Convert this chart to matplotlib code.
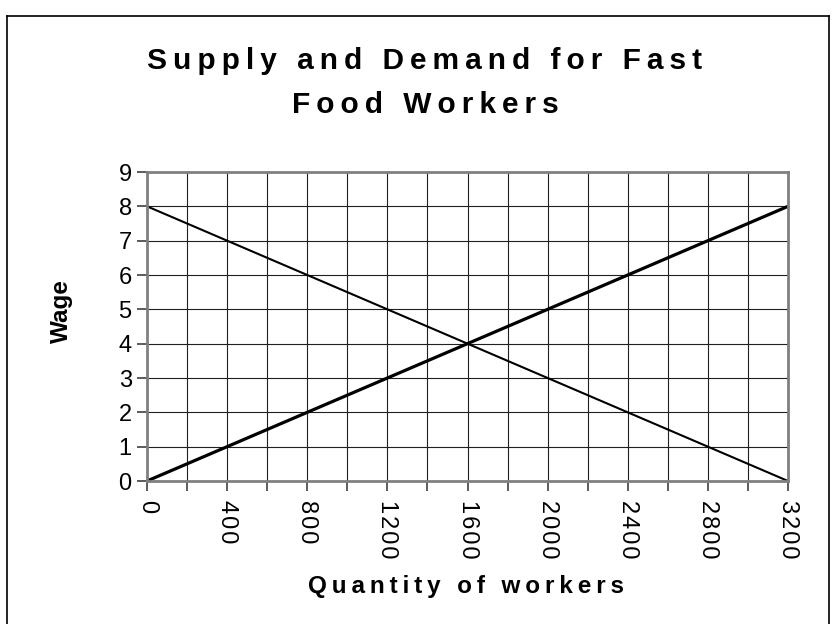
import matplotlib
matplotlib.use("Agg")
import matplotlib.pyplot as plt
from matplotlib.lines import Line2D

# data
quantity = [0, 400, 800, 1200, 1600, 2000, 2400, 2800, 3200]
supply_wage = [0, 1, 2, 3, 4, 5, 6, 7, 8]
demand_wage = [8, 7, 6, 5, 4, 3, 2, 1, 0]

x_ticks = [0, 400, 800, 1200, 1600, 2000, 2400, 2800, 3200]
x_minor = [200, 600, 1000, 1400, 1800, 2200, 2600, 3000]
y_ticks = [0, 1, 2, 3, 4, 5, 6, 7, 8, 9]

title1 = "Supply and Demand for Fast"
title2 = "Food Workers"
xlabel = "Quantity of workers"
ylabel = "Wage"

fam = ["Liberation Sans", "DejaVu Sans"]
plt.rcParams["font.family"] = fam

def spaced(s, sep="\u2009"):
    # Excel-style letter spacing
    return sep.join(s)

W, H = 832, 624
fig = plt.figure(figsize=(W / 100, H / 100), dpi=100)
ax = fig.add_axes([147 / W, 1 - 481 / H, (788 - 147) / W, (481 - 172) / H])

ax.plot(quantity, demand_wage, color="black", lw=1.5, solid_capstyle="butt")
ax.plot(quantity, supply_wage, color="black", lw=2.3, solid_capstyle="butt")

ax.set_xlim(0, 3200)
ax.set_ylim(0, 9)
ax.set_xticks(x_ticks)
ax.set_xticks(x_minor, minor=True)
ax.set_xticklabels([spaced(str(t), "\u200a") for t in x_ticks], rotation=-90, fontsize=17)
ax.set_yticks(y_ticks)
ax.set_yticklabels([str(t) for t in y_ticks], fontsize=17)

ax.tick_params(axis="x", which="both", direction="out", length=7, width=1.2,
               color="#404040", pad=7)
ax.tick_params(axis="y", direction="out", length=7, width=1.2, color="#404040", pad=4)
ax.grid(True, which="both", color="#202020", lw=0.8)
ax.set_axisbelow(True)
for sp in ax.spines.values():
    sp.set_color("#808080")
    sp.set_linewidth(2)

fig.text(425 / W, 1 - 69 / H, spaced(title1), ha="center", va="baseline",
         fontsize=21.5, fontweight="bold")
fig.text(425 / W, 1 - 113 / H, spaced(title2), ha="center", va="baseline",
         fontsize=21.5, fontweight="bold")
fig.text(466 / W, 1 - 593 / H, spaced(xlabel), ha="center", va="baseline",
         fontsize=17.5, fontweight="bold")
fig.text(61 / W, 1 - 311 / H, ylabel, ha="center", va="center", rotation=90,
         fontsize=17.5, fontweight="bold")

# chart area border
bx0, bx1, by0 = 7 / W, 829 / W, 1 - 16 / H
for xs, ys in [([bx0, bx0], [0, by0]), ([bx0, bx1], [by0, by0]), ([bx1, bx1], [by0, 0])]:
    fig.add_artist(Line2D(xs, ys, color="black", lw=1.2, transform=fig.transFigure))

fig.savefig("out.png", dpi=100)
